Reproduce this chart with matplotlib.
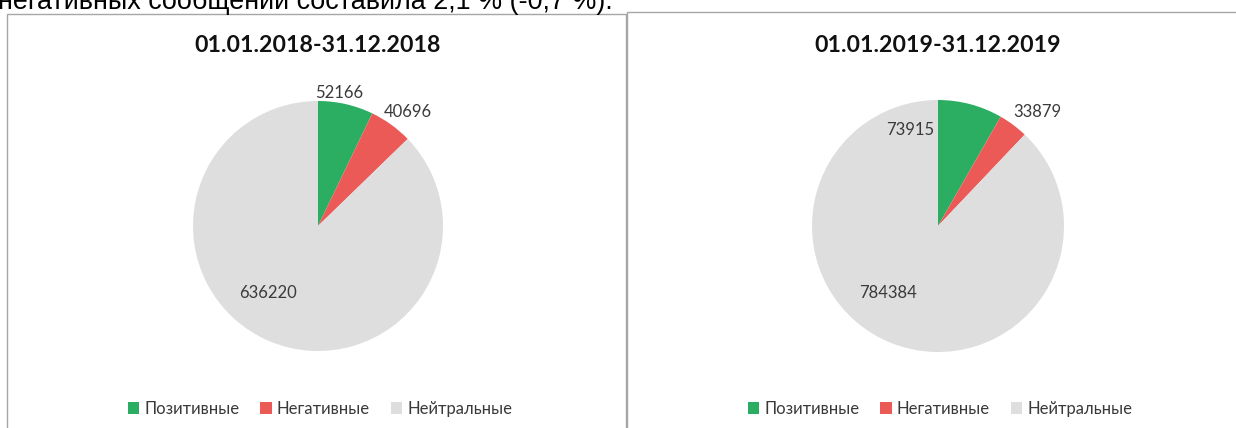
import numpy as np
import matplotlib
matplotlib.use("Agg")
import matplotlib.pyplot as plt
from matplotlib.patches import Rectangle, Patch

# data
categories = ["Позитивные", "Негативные", "Нейтральные"]
titles = ["01.01.2018-31.12.2018", "01.01.2019-31.12.2019"]
values_2018 = [52166, 40696, 636220]
values_2019 = [73915, 33879, 784384]
colors = ["#2BAE62", "#EC5A58", "#DEDEDE"]
header = "негативных сообщений составила 2,1 % (-0,7 %)."

# label placement (radius factor, angle shift from wedge middle) per slice
label_pos = [
    [(1.08, 4.0), (1.16, -2.5), (0.67, -14.0)],
    [(0.79, 31.0), (1.20, -4.5), (0.66, -15.0)],
]

W, H = 1236, 428
fig = plt.figure(figsize=(W / 100, H / 100), dpi=100)
fig.patch.set_facecolor("white")


def px_box(x0, y0, x1, y1):
    # pixel box (top-left origin) -> figure fraction rect
    return [x0 / W, 1 - y1 / H, (x1 - x0) / W, (y1 - y0) / H]


# cut-off paragraph text at the very top (partly outside the page, as in the source)
fig.text(-2 / W, 1 - 9 / H, header, fontsize=19.4, family="Liberation Sans",
         color="#000000", ha="left", va="baseline")

# panel frames
panels = [(7, 14, 626, 440), (627, 12, 1240, 440)]
for x0, y0, x1, y1 in panels:
    r = px_box(x0, y0, x1, y1)
    fig.add_artist(Rectangle((r[0], r[1]), r[2], r[3], transform=fig.transFigure,
                             facecolor="none", edgecolor="#A6A6A6", linewidth=1.0))

centers = [(318, 226, 125), (938, 226, 126)]
legend_x = [320, 940]

for i, vals in enumerate([values_2018, values_2019]):
    cx, cy, R = centers[i]
    ax = fig.add_axes(px_box(cx - R, cy - R, cx + R, cy + R))
    wedges, _ = ax.pie(vals, colors=colors, startangle=90, counterclock=False,
                       radius=1.0, wedgeprops=dict(linewidth=0))
    ax.set_xlim(-1, 1)
    ax.set_ylim(-1, 1)
    ax.set_aspect("equal")
    ax.axis("off")
    for w, v, (rf, dang) in zip(wedges, vals, label_pos[i]):
        mid = np.deg2rad((w.theta1 + w.theta2) / 2 + dang)
        ax.text(rf * np.cos(mid), rf * np.sin(mid), str(v), fontsize=12,
                family="Lato", color="#3A3A3A", ha="center", va="center")

    fig.text(cx / W, 1 - 46 / H, titles[i], fontsize=16.7, family="Lato",
             fontweight="bold", color="#111111", ha="center", va="center")

    handles = [Patch(facecolor=c, edgecolor="none") for c in colors]
    fig.legend(handles, categories, loc="center", ncol=3, frameon=False,
               bbox_to_anchor=(legend_x[i] / W, 1 - 409 / H),
               prop={"family": "Lato", "size": 12}, labelcolor="#3A3A3A",
               handlelength=0.7, handleheight=0.7, handletextpad=0.3,
               columnspacing=1.25)

fig.savefig("out.png", dpi=100)
